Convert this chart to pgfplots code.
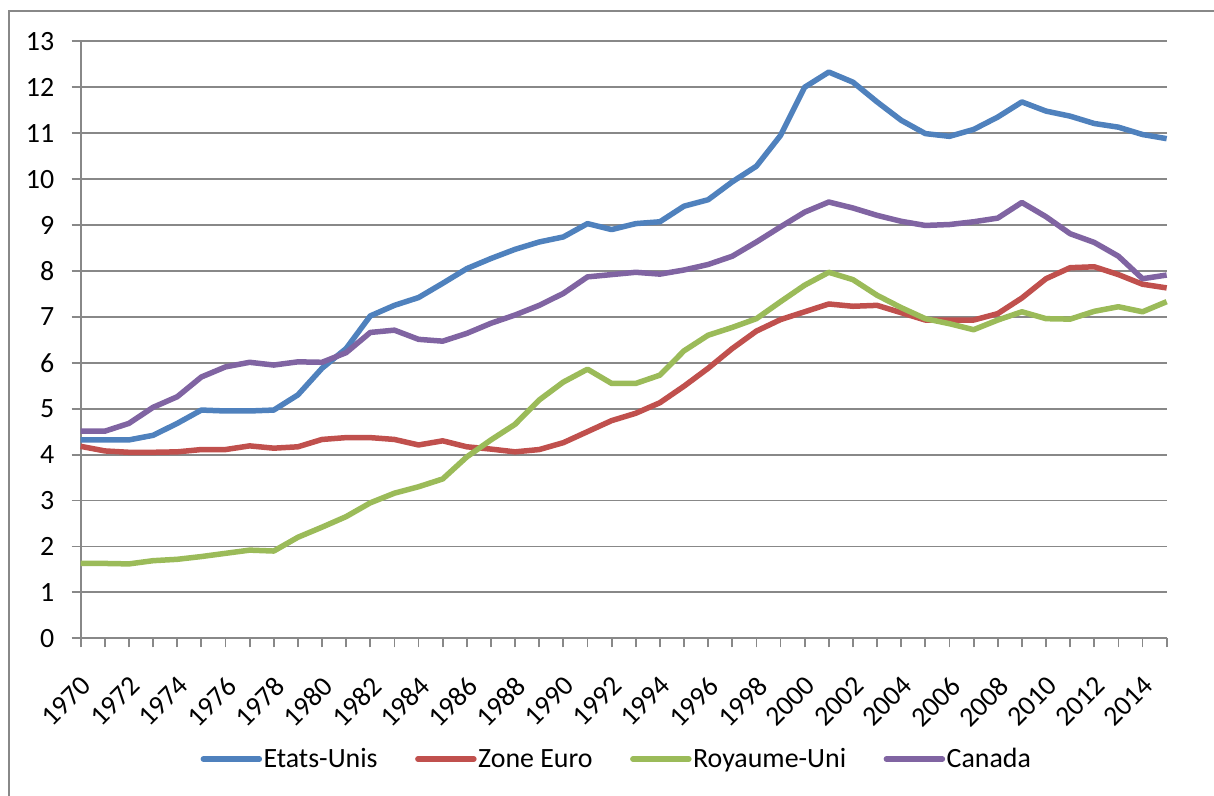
\documentclass[border=0pt]{standalone}
\usepackage{pgfplots}
\pgfplotsset{compat=1.18}
\usepackage{pgfplotstable}
\usepackage{fontspec}
\setmainfont{Carlito}
\definecolor{cUS}{HTML}{4F81BD}
\definecolor{cEZ}{HTML}{C0504D}
\definecolor{cUK}{HTML}{9BBB59}
\definecolor{cCA}{HTML}{8064A2}
\definecolor{gridc}{HTML}{888888}
\pgfplotstableread{
year US EZ UK CA
1970 4.32 4.18 1.63 4.51
1971 4.32 4.08 1.63 4.51
1972 4.32 4.05 1.62 4.68
1973 4.42 4.05 1.69 5.03
1974 4.68 4.06 1.72 5.26
1975 4.97 4.11 1.78 5.69
1976 4.95 4.11 1.85 5.91
1977 4.95 4.19 1.92 6.01
1978 4.97 4.14 1.90 5.95
1979 5.30 4.17 2.20 6.02
1980 5.88 4.33 2.42 6.01
1981 6.31 4.37 2.65 6.22
1982 7.02 4.37 2.95 6.66
1983 7.25 4.33 3.16 6.71
1984 7.42 4.21 3.30 6.51
1985 7.73 4.30 3.47 6.47
1986 8.05 4.17 3.95 6.64
1987 8.27 4.12 4.32 6.86
1988 8.47 4.06 4.66 7.04
1989 8.63 4.11 5.19 7.25
1990 8.74 4.26 5.58 7.51
1991 9.03 4.50 5.86 7.87
1992 8.90 4.74 5.55 7.92
1993 9.03 4.90 5.55 7.97
1994 9.07 5.13 5.73 7.93
1995 9.41 5.49 6.26 8.02
1996 9.55 5.88 6.60 8.14
1997 9.94 6.31 6.77 8.32
1998 10.28 6.69 6.96 8.63
1999 10.95 6.94 7.33 8.96
2000 12.00 7.11 7.69 9.28
2001 12.33 7.28 7.97 9.50
2002 12.11 7.23 7.81 9.37
2003 11.68 7.25 7.47 9.21
2004 11.28 7.09 7.20 9.08
2005 10.99 6.93 6.96 8.99
2006 10.93 6.93 6.85 9.01
2007 11.08 6.93 6.72 9.07
2008 11.35 7.07 6.93 9.15
2009 11.68 7.41 7.11 9.49
2010 11.48 7.83 6.96 9.18
2011 11.37 8.07 6.95 8.81
2012 11.21 8.09 7.12 8.62
2013 11.13 7.92 7.22 8.32
2014 10.97 7.71 7.11 7.83
2015 10.88 7.63 7.33 7.91
}\datatable
\begin{document}
\begin{tikzpicture}
\useasboundingbox (0,0) rectangle (1214bp,796bp);
\draw[gridc, line width=1.5bp] (9bp,-2bp) -- (9bp,785bp) -- (1216bp,785bp);
\begin{axis}[
  at={(80.7bp,157.7bp)}, anchor=south west,
  scale only axis, width=1086bp, height=597bp,
  xmin=1970, xmax=2015, ymin=0, ymax=13,
  ytick={0,...,13},
  xtick={1970,1972,...,2014},
  minor xtick={1971,1973,...,2015},
  axis lines*=left,
  axis line style={gridc, line width=1.8bp},
  every tick/.style={gridc, line width=1.8bp},
  tick align=outside,
  major tick length=9bp, minor tick length=9bp,
  ymajorgrids,
  major grid style={gridc, line width=1.8bp},
  /pgf/number format/assume math mode=true,
  /pgf/number format/1000 sep={},
  ticklabel style={font=\fontsize{28}{34}\selectfont},
  yticklabel style={anchor=east, xshift=-14bp},
  xticklabel style={rotate=45, anchor=north east, inner sep=2bp, yshift=-17bp, xshift=-18bp},
  legend style={draw=none, fill=none, at={(0.4934,-0.2022)}, anchor=center,
    font=\fontsize{28}{34}\selectfont,
    nodes={inner sep=1.5bp},
    /tikz/every even column/.append style={column sep=36bp}},
  legend columns=4,
  legend cell align=left,
  legend image code/.code={\draw[#1, line width=5.5bp, line cap=round] (0bp,0bp) -- (56bp,0bp);},
  clip=false,
]
\addplot[cUS, line width=5.5bp, line join=round] table[x=year, y=US] {\datatable};
\addlegendentry{Etats-Unis}
\addplot[cEZ, line width=5.5bp, line join=round] table[x=year, y=EZ] {\datatable};
\addlegendentry{Zone Euro}
\addplot[cUK, line width=5.5bp, line join=round] table[x=year, y=UK] {\datatable};
\addlegendentry{Royaume-Uni}
\addplot[cCA, line width=5.5bp, line join=round] table[x=year, y=CA] {\datatable};
\addlegendentry{Canada}
\end{axis}
\end{tikzpicture}
\end{document}
